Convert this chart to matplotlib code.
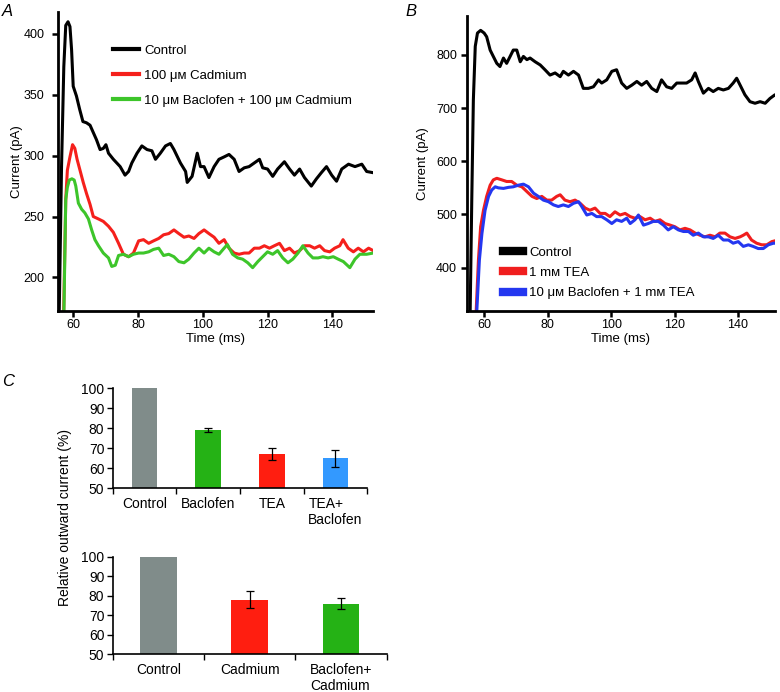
import matplotlib
matplotlib.use('Agg')
import matplotlib.pyplot as plt
from matplotlib.lines import Line2D

plt.rcParams['font.family'] = ['Liberation Sans', 'DejaVu Sans']
plt.rcParams['font.size'] = 9

# ---- panel A traces (time in ms, current in pA) ----
a_ctrl_t = [55.0, 55.7, 56.4, 57.1, 57.7, 58.4, 59.0, 59.5, 60.0, 61.0, 62.0, 63.0, 64.1, 65.2, 66.2,
            67.2, 68.3, 69.3, 70.1, 70.9, 72.4, 74.5, 76.0, 77.1, 78.1, 79.7, 81.2, 82.8, 84.3,
            85.4, 86.9, 88.5, 90.0, 91.1, 93.1, 94.7, 95.2, 96.7, 98.3, 99.3, 100.4, 101.9,
            103.5, 105.0, 106.6, 108.1, 109.7, 111.2, 112.8, 114.3, 115.9, 117.5, 118.5, 120.0,
            121.6, 123.1, 125.2, 126.8, 128.3, 129.9, 131.4, 133.5, 135.1, 136.6, 138.2, 139.8,
            141.3, 142.9, 145.0, 147.0, 149.1, 150.6, 152.6]
a_ctrl_v = [150, 174, 291, 373, 407, 410, 406, 387, 357, 349, 338, 328, 327, 325, 319,
            313, 305, 306, 309, 302, 297, 291, 284, 287, 294, 302, 308, 305, 304,
            297, 302, 308, 310, 305, 294, 287, 278, 283, 302, 291, 291, 282,
            291, 297, 299, 301, 297, 287, 290, 291, 294, 297, 290, 289,
            283, 289, 295, 289, 284, 289, 282, 275, 281, 286, 291, 284,
            279, 289, 293, 291, 293, 287, 286]

a_cd_t = [56.9, 57.1, 57.7, 58.2, 59.0, 59.8, 60.5, 61.2, 62.1, 63.1, 64.1, 65.2, 66.2, 67.8, 69.3,
          70.9, 72.4, 74.0, 75.5, 77.1, 78.6, 80.2, 81.7, 83.3, 84.8, 86.4, 87.9, 89.5, 91.1,
          92.6, 94.2, 95.7, 97.3, 98.8, 100.4, 101.9, 103.5, 105.0, 106.6, 108.1, 109.7, 111.2,
          112.8, 114.3, 115.9, 117.5, 119.0, 120.6, 122.1, 123.7, 125.2, 126.8, 128.3, 129.9,
          131.4, 133.0, 134.5, 136.1, 137.6, 139.2, 140.7, 142.3, 143.3, 144.9, 146.5, 148.0,
          149.6, 151.2, 152.6]
a_cd_v = [150, 176, 264, 288, 299, 309, 306, 297, 288, 278, 269, 260, 250, 248, 246,
          242, 237, 228, 219, 217, 220, 230, 231, 228, 230, 232, 235, 236, 239,
          236, 233, 234, 232, 236, 239, 236, 233, 228, 231, 224, 220, 219,
          220, 220, 224, 224, 226, 224, 226, 228, 222, 224, 220, 222,
          226, 226, 224, 226, 222, 221, 224, 226, 231, 224, 221, 224,
          221, 224, 222]

a_bac_t = [57.0, 57.7, 58.2, 58.8, 59.6, 60.3, 60.8, 61.6, 62.6, 63.6, 64.7, 65.7, 66.7, 67.8, 69.3,
           70.9, 71.9, 73.0, 74.0, 75.5, 77.1, 78.6, 80.2, 81.7, 83.3, 84.8, 86.4, 87.9, 89.5,
           91.1, 92.6, 94.2, 95.7, 97.3, 98.8, 100.4, 101.9, 103.5, 105.0, 106.6, 107.6, 109.2,
           110.8, 112.3, 113.9, 115.4, 117.0, 118.5, 120.0, 121.6, 123.1, 124.7, 126.3, 127.8,
           129.4, 130.9, 132.5, 134.0, 135.6, 137.1, 138.7, 140.3, 141.8, 143.4, 145.4, 147.0,
           148.5, 150.6, 152.6]
a_bac_v = [150, 264, 274, 280, 281, 280, 275, 261, 256, 253, 248, 239, 231, 226, 220,
           216, 209, 210, 218, 219, 217, 219, 220, 220, 221, 223, 224, 218, 219,
           217, 213, 212, 215, 220, 224, 220, 224, 221, 219, 224, 227, 219,
           216, 215, 212, 208, 213, 217, 221, 219, 222, 216, 212, 215,
           220, 226, 220, 216, 216, 217, 216, 217, 215, 213, 208, 215,
           219, 219, 220]

# ---- panel B traces ----
b_ctrl_t = [55.0, 55.5, 56.0, 56.5, 57.1, 57.8, 58.8, 59.9, 60.7, 61.8, 62.8, 63.9, 64.9, 66.0,
            67.0, 68.1, 69.1, 70.2, 71.3, 72.3, 73.4, 74.4, 76.0, 77.6, 79.1, 80.7, 82.3, 83.9,
            84.9, 86.5, 88.1, 89.7, 91.2, 92.8, 94.4, 96.0, 97.0, 98.6, 100.2, 101.7, 103.3,
            104.9, 106.5, 108.1, 109.6, 111.2, 112.8, 114.4, 115.9, 117.5, 119.1, 120.7, 122.2,
            123.8, 125.4, 126.5, 127.5, 129.1, 130.7, 132.2, 133.8, 135.4, 137.0, 138.5, 139.6,
            140.7, 142.2, 143.8, 145.4, 147.0, 148.6, 150.1, 151.7, 152.7]
b_ctrl_v = [250, 320, 527, 715, 816, 841, 846, 841, 834, 809, 797, 784, 778, 794,
            784, 797, 809, 809, 787, 797, 791, 794, 787, 781, 772, 762, 766, 759,
            769, 762, 769, 762, 737, 737, 740, 753, 747, 753, 769, 772, 747,
            737, 743, 750, 743, 750, 737, 731, 753, 740, 737, 747, 747,
            747, 753, 766, 750, 728, 737, 731, 737, 734, 737, 747, 756,
            743, 725, 712, 709, 712, 709, 718, 725, 718]

b_tea_t = [57.0, 57.4, 58.1, 58.8, 59.7, 60.7, 61.8, 62.8, 63.9, 65.5, 67.0, 68.6, 70.2, 71.8,
           73.4, 75.0, 76.5, 78.1, 79.7, 81.2, 82.8, 83.9, 85.4, 87.0, 88.6, 90.2, 91.8, 93.3,
           94.9, 96.5, 98.1, 99.6, 101.2, 102.8, 104.4, 106.0, 107.5, 109.1, 110.7, 112.3,
           113.8, 115.4, 117.0, 118.6, 120.1, 121.7, 123.3, 124.9, 126.5, 128.0, 129.6, 131.2,
           132.8, 134.3, 135.9, 137.5, 139.1, 140.7, 141.7, 142.8, 144.3, 145.9, 147.5, 149.1,
           150.7, 152.7]
b_tea_v = [250, 320, 414, 477, 508, 534, 555, 565, 568, 565, 562, 562, 555, 552,
           543, 534, 530, 534, 527, 527, 534, 537, 527, 524, 527, 521, 512, 508,
           512, 502, 502, 496, 505, 499, 502, 496, 493, 496, 490, 493,
           487, 490, 483, 480, 477, 471, 474, 471, 465, 461, 458, 461,
           458, 465, 465, 458, 455, 458, 461, 465, 452, 446, 443, 443,
           449, 452]

b_bac_t = [57.2, 57.6, 58.4, 59.2, 60.2, 61.3, 62.3, 63.4, 64.4, 66.0, 67.6, 69.1, 70.7, 72.3,
           73.9, 75.5, 77.0, 78.6, 80.2, 81.8, 83.3, 84.9, 86.5, 88.1, 89.7, 90.7, 92.3, 93.9,
           95.4, 97.0, 98.6, 100.2, 101.7, 103.3, 104.9, 106.0, 107.5, 108.6, 110.2, 111.7,
           113.3, 114.9, 116.5, 118.0, 119.6, 121.2, 122.8, 124.4, 125.9, 127.5, 129.1, 130.7,
           132.2, 133.8, 135.4, 137.0, 138.5, 140.1, 141.7, 143.3, 144.8, 146.4, 148.0, 149.6,
           151.2, 152.7]
b_bac_v = [250, 320, 414, 464, 508, 534, 546, 552, 550, 549, 551, 552, 555, 557,
           552, 540, 534, 527, 524, 518, 515, 518, 515, 521, 524, 515, 499, 502,
           496, 496, 490, 483, 490, 487, 493, 483, 490, 499, 480, 483,
           487, 487, 480, 471, 477, 471, 468, 468, 461, 465, 458, 458,
           455, 461, 452, 452, 446, 449, 440, 443, 440, 436, 436, 443,
           446, 446]

# ---- panel C bars ----
c1_labels = ['Control', 'Baclofen', 'TEA', 'TEA+\nBaclofen']
c1_values = [100, 79, 67, 65]
c1_errors = [0, 1, 3, 4.3]
c1_colors = ['#808c8a', '#25b215', '#ff1e10', '#3399ff']

c2_labels = ['Control', 'Cadmium', 'Baclofen+\nCadmium']
c2_values = [100, 78, 76]
c2_errors = [0, 4.3, 3]
c2_colors = ['#808c8a', '#ff1e10', '#25b215']

W, H = 780, 692
fig = plt.figure(figsize=(W / 100, H / 100), dpi=100)


def box(left, top, right, bottom):
    # pixel box -> figure fraction
    return [left / W, 1 - bottom / H, (right - left) / W, (bottom - top) / H]


def style_trace_axes(ax, ypad, ylpad):
    for s in ['top', 'right']:
        ax.spines[s].set_visible(False)
    for s in ['left', 'bottom']:
        ax.spines[s].set_linewidth(2)
    ax.tick_params(direction='out', length=4, width=1.8, labelsize=9)
    ax.tick_params(axis='x', pad=2)
    ax.tick_params(axis='y', pad=ypad)
    ax.set_xticks([60, 80, 100, 120, 140])
    ax.set_xlabel('Time (ms)', fontsize=9.5, labelpad=1)
    ax.set_ylabel('Current (pA)', fontsize=9.5, labelpad=ylpad)


# Panel A
axA = fig.add_axes(box(58.3, 12, 372.5, 311))
axA.plot(a_ctrl_t, a_ctrl_v, color='black', lw=2.2, label='Control')
axA.plot(a_cd_t, a_cd_v, color='#f5201c', lw=2.2, label='100 μᴍ Cadmium')
axA.plot(a_bac_t, a_bac_v, color='#3dc52a', lw=2.2, label='10 μᴍ Baclofen + 100 μᴍ Cadmium')
axA.set_xlim(55.4, 152.4)
axA.set_ylim(172.4, 418)
axA.set_yticks([200, 250, 300, 350, 400])
style_trace_axes(axA, 6, 0)
legA = axA.legend(loc='upper left', bbox_to_anchor=(0.135, 0.93), frameon=False,
                  fontsize=9.5, handlelength=2.0, handletextpad=0.4, labelspacing=0.95)
for h in legA.get_lines():
    h.set_linewidth(3)

# Panel B
axB = fig.add_axes(box(466.7, 16, 775, 311))
axB.plot(b_ctrl_t, b_ctrl_v, color='black', lw=2.2)
axB.plot(b_tea_t, b_tea_v, color='#f01e1e', lw=2.2)
axB.plot(b_bac_t, b_bac_v, color='#2437f0', lw=2.2)
axB.set_xlim(54.4, 151.7)
axB.set_ylim(318.6, 873)
axB.set_yticks([400, 500, 600, 700, 800])
style_trace_axes(axB, 3, 5)
hB = [Line2D([], [], color='black', lw=6),
      Line2D([], [], color='#f01e1e', lw=6),
      Line2D([], [], color='#2437f0', lw=6)]
axB.legend(hB, ['Control', '1 mᴍ TEA', '10 μᴍ Baclofen + 1 mᴍ TEA'],
           loc='lower left', bbox_to_anchor=(0.08, 0.0), frameon=False,
           fontsize=9.5, handlelength=1.5, handletextpad=0.45, labelspacing=0.6)


def bar_panel(ax, labels, values, errors, colors):
    n = len(values)
    x = list(range(n))
    ax.bar(x, values, width=0.4, color=colors)
    ex = [i for i in x if errors[i] > 0]
    ax.errorbar(ex, [values[i] for i in ex], yerr=[errors[i] for i in ex], fmt='none',
                ecolor='black', elinewidth=0.9, capsize=3, capthick=0.9)
    ax.set_xlim(-0.5, n - 0.5)
    ax.set_ylim(50, 100)
    ax.set_yticks([50, 60, 70, 80, 90, 100])
    ax.set_xticks([i - 0.5 for i in range(n + 1)])
    ax.set_xticklabels([])
    ax.set_xticks(x, minor=True)
    ax.set_xticklabels(labels, minor=True, ha='center', multialignment='left')
    ax.tick_params(axis='x', which='minor', length=0, labelsize=10, pad=6)
    ax.tick_params(axis='x', which='major', direction='out', length=4, width=1)
    ax.tick_params(axis='y', direction='out', length=4, width=1, labelsize=10, pad=2)
    for s in ['top', 'right']:
        ax.spines[s].set_visible(False)
    for s in ['left', 'bottom']:
        ax.spines[s].set_linewidth(1.2)


axC1 = fig.add_axes(box(112.7, 388.3, 367.3, 488.3))
bar_panel(axC1, c1_labels, c1_values, c1_errors, c1_colors)
axC2 = fig.add_axes(box(112.7, 556.7, 386.7, 654.3))
bar_panel(axC2, c2_labels, c2_values, c2_errors, c2_colors)

fig.text(65 / W, 1 - 518 / H, 'Relative outward current (%)', rotation=90,
         ha='center', va='center', fontsize=10)

# panel letters
fig.text(2 / W, 1 - 11 / H, 'A', fontsize=12, style='italic', ha='left', va='center')
fig.text(405 / W, 1 - 11 / H, 'B', fontsize=12, style='italic', ha='left', va='center')
fig.text(2 / W, 1 - 382 / H, 'C', fontsize=12, style='italic', ha='left', va='center')

fig.savefig('out.png', dpi=100)
